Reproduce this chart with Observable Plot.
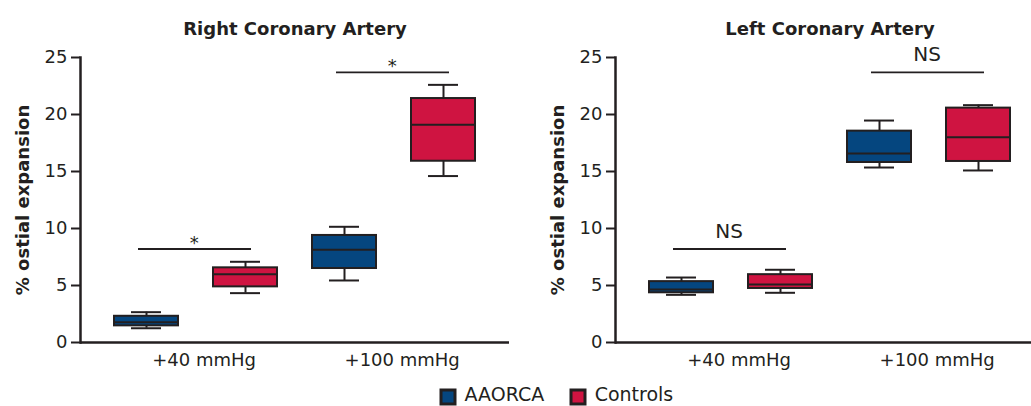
<!DOCTYPE html>
<html>
<head>
<meta charset="utf-8">
<script src="https://cdn.jsdelivr.net/npm/d3@7"></script>
<script src="https://cdn.jsdelivr.net/npm/@observablehq/plot@0.6"></script>
<style>
  html, body { margin: 0; padding: 0; background: #ffffff; }
  #wrap { position: relative; width: 1031px; height: 406px; overflow: hidden; }
  #left { position: absolute; left: 0; top: 0; width: 515px; }
  #right { position: absolute; left: 535px; top: 0; width: 515px; }
  #legend { position: absolute; left: 441px; top: 386px; }
  .lg-swatches { min-height: 0 !important; height: 16px !important; line-height: 16px !important; margin: 0 !important; }
  .lg-swatch { margin-right: 27px !important; }
  .lg-swatch svg { position: relative; top: 3px; }
  .lg-swatch svg rect { stroke: #231f20; stroke-width: 3px; }
</style>
</head>
<body>
<div id="wrap">
  <div id="left"></div>
  <div id="right"></div>
  <div id="legend"></div>
</div>
<script>
// ---- data ----
const pressures = ["+40 mmHg", "+100 mmHg"];
const groups = ["AAORCA", "Controls"];
const colors = ["#05467f", "#cf1441"];
const yTicks = [0, 5, 10, 15, 20, 25];

// order: +40 AAORCA, +40 Controls, +100 AAORCA, +100 Controls
const rcaMin    = [1.25, 4.33, 5.44, 14.6];
const rcaQ1     = [1.46, 4.88, 6.49, 15.9];
const rcaMedian = [1.78, 5.99, 8.13, 19.1];
const rcaQ3     = [2.30, 6.55, 9.39, 21.4];
const rcaMax    = [2.66, 7.08, 10.15, 22.6];
const rcaSigY     = [8.2, 23.7];
const rcaSigLabel = ["*", "*"];

const lcaMin    = [4.18, 4.36, 15.35, 15.09];
const lcaQ1     = [4.36, 4.74, 15.79, 15.88];
const lcaMedian = [4.66, 5.09, 16.58, 18.01];
const lcaQ3     = [5.34, 5.95, 18.54, 20.56];
const lcaMax    = [5.70, 6.38, 19.47, 20.82];
const lcaSigY     = [8.2, 23.7];
const lcaSigLabel = ["NS", "NS"];

// ---- layout / style ----
const INK = "#231f20";
const FONT = "'DejaVu Sans', sans-serif";
const W = 515, H = 380, ML = 80, MR = 6, MT = 57, MB = 38;
const PI = 0.35, PO = 0.335;
const keys = pressures.flatMap(p => groups.map(g => p + "|" + g));
const step = (W - ML - MR) / (keys.length - PI + 2 * PO);

function panel(title, mins, q1s, meds, q3s, maxs, sigY, sigLabel, sigFont, sigDy) {
  const stats = keys.map((k, i) => ({
    key: k, pressure: k.split("|")[0], group: k.split("|")[1],
    min: mins[i], q1: q1s[i], median: meds[i], q3: q3s[i], max: maxs[i]
  }));
  const sig = pressures.map((p, i) => ({
    a: p + "|" + groups[0], b: p + "|" + groups[1], y: sigY[i], label: sigLabel[i]
  }));
  return Plot.plot({
    width: W, height: H,
    marginLeft: ML, marginRight: MR, marginTop: MT, marginBottom: MB,
    style: { fontFamily: FONT, fontSize: "18px", color: INK, background: "transparent", overflow: "visible", maxWidth: "none" },
    x: { domain: keys, paddingInner: PI, paddingOuter: PO, axis: null },
    y: { domain: [0, 25] },
    color: { domain: groups, range: colors },
    marks: [
      Plot.axisY({ ticks: yTicks, tickSize: 9, tickPadding: 4, strokeWidth: 2, stroke: INK, fill: INK, label: null }),
      Plot.frame({ anchor: "left", stroke: INK, strokeWidth: 2.5 }),
      Plot.ruleY([0], { stroke: INK, strokeWidth: 2.5 }),
      // whiskers
      Plot.ruleX(stats, { x: "key", y1: "q3", y2: "max", stroke: INK, strokeWidth: 2 }),
      Plot.ruleX(stats, { x: "key", y1: "min", y2: "q1", stroke: INK, strokeWidth: 2 }),
      Plot.tickY(stats, { x: "key", y: "max", inset: 17, stroke: INK, strokeWidth: 2 }),
      Plot.tickY(stats, { x: "key", y: "min", inset: 17, stroke: INK, strokeWidth: 2 }),
      // boxes
      Plot.barY(stats, { x: "key", y1: "q1", y2: "q3", fill: "group", stroke: INK, strokeWidth: 2 }),
      Plot.tickY(stats, { x: "key", y: "median", stroke: INK, strokeWidth: 2 }),
      // significance
      Plot.ruleY(sig, { x1: "a", x2: "b", y: "y", insetLeft: 24, insetRight: 26, stroke: INK, strokeWidth: 1.8 }),
      Plot.text(sig, { x: "a", y: "y", text: "label", dx: step / 2 - 2, dy: sigDy, lineAnchor: "bottom", fontSize: sigFont, fill: INK }),
      // category labels
      Plot.text(pressures, { x: p => p + "|" + groups[0], text: d => d, frameAnchor: "bottom", dx: step / 2 + 8, dy: 11, lineAnchor: "top", fill: INK }),
      // y label
      Plot.text(["% ostial expansion"], { text: d => d, frameAnchor: "left", textAnchor: "middle", dx: -57, rotate: -90, fontWeight: "bold", fontSize: 18, fill: INK }),
      // title
      Plot.text([title], { text: d => d, frameAnchor: "top", dy: -35, fontWeight: "bold", fontSize: 18, fill: INK })
    ]
  });
}

document.getElementById("left").append(
  panel("Right Coronary Artery", rcaMin, rcaQ1, rcaMedian, rcaQ3, rcaMax, rcaSigY, rcaSigLabel, 18, 0)
);
document.getElementById("right").append(
  panel("Left Coronary Artery", lcaMin, lcaQ1, lcaMedian, lcaQ3, lcaMax, lcaSigY, lcaSigLabel, 20, -11)
);
document.getElementById("legend").append(
  Plot.legend({
    legend: "swatches",
    color: { domain: groups, range: colors },
    swatchSize: 14,
    className: "lg",
    style: { fontFamily: FONT, fontSize: "19px", color: INK }
  })
);
</script>
</body>
</html>
